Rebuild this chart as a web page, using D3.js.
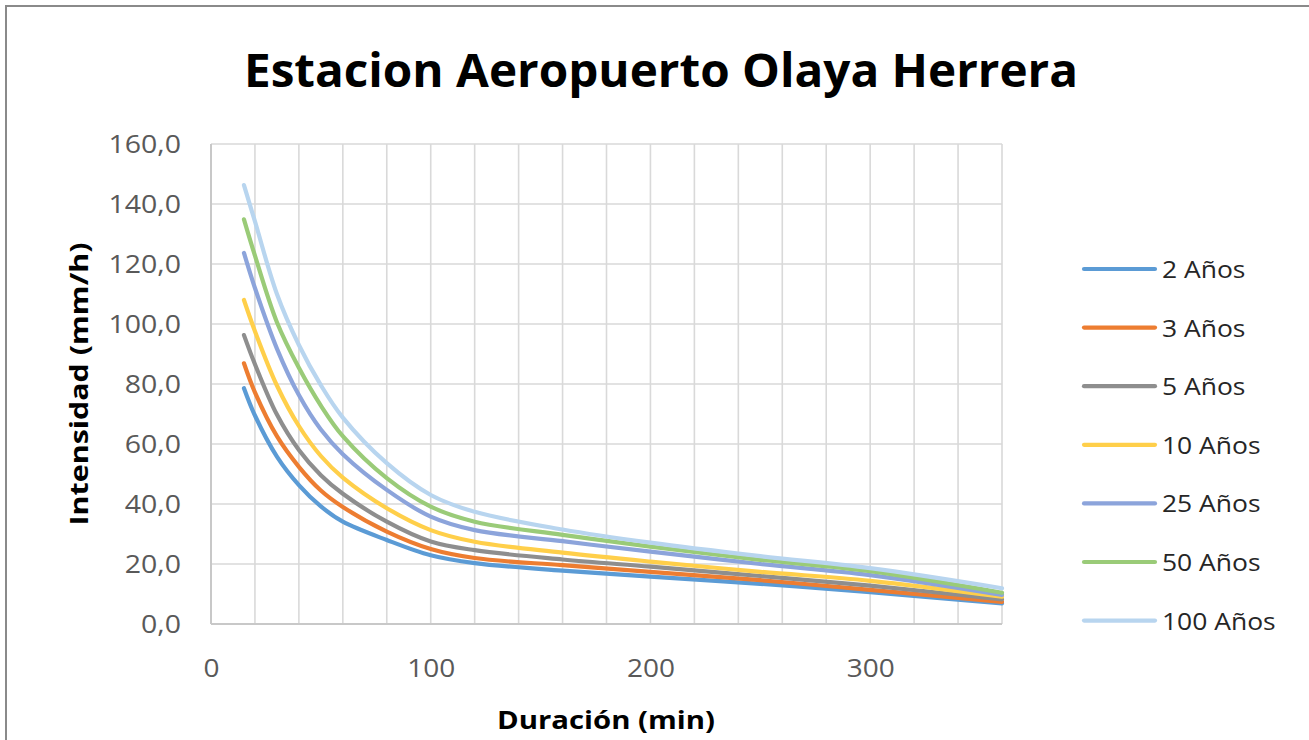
<!DOCTYPE html>
<html>
<head>
<meta charset="utf-8">
<script src="https://cdn.jsdelivr.net/npm/d3@7"></script>
<style>
  html, body { margin: 0; padding: 0; background: #fff; }
  svg { display: block; }
  text { font-family: "Open Sans", "Liberation Sans", sans-serif; }
</style>
</head>
<body>
<svg id="chart" width="1309" height="740"></svg>
<script>
// ---- Data ----
const title = "Estacion Aeropuerto Olaya Herrera";
const xTitle = "Duración (min)";
const yTitle = "Intensidad (mm/h)";
const durations = [15, 20, 30, 40, 50, 60, 80, 100, 120, 160, 200, 250, 300, 360];
const seriesNames = ["2 Años", "3 Años", "5 Años", "10 Años", "25 Años", "50 Años", "100 Años"];
const s2   = [78.6, 69.5, 55.8, 46.3, 39.2, 34.1, 28.0, 22.9, 20.3, 17.8, 15.8, 13.4, 10.6, 6.9];
const s3   = [86.9, 77.2, 62.6, 52.4, 44.5, 39.0, 30.8, 25.0, 22.0, 19.6, 17.4, 14.6, 11.4, 7.4];
const s5   = [96.3, 86.6, 69.8, 58.0, 49.6, 43.4, 34.1, 27.5, 24.6, 21.5, 19.1, 16.0, 12.8, 8.2];
const s10  = [108.0, 97.6, 79.5, 66.0, 56.0, 48.8, 38.6, 31.3, 27.4, 23.8, 20.8, 17.4, 14.4, 9.1];
const s25  = [123.7, 112.0, 91.8, 76.3, 64.8, 56.6, 44.7, 35.8, 31.3, 27.6, 24.1, 20.0, 16.3, 9.7];
const s50  = [134.9, 122.8, 100.6, 85.4, 72.8, 62.6, 48.6, 39.1, 34.1, 29.7, 25.8, 21.4, 17.6, 10.4];
const s100 = [146.3, 134.2, 110.0, 93.0, 79.6, 68.8, 53.6, 43.0, 37.4, 31.5, 27.1, 22.6, 18.6, 11.9];
const seriesValues = [s2, s3, s5, s10, s25, s50, s100];
const colors = ["#5B9BD5", "#ED7D31", "#8E8E8E", "#FFCF4A", "#8CA4DB", "#9ACB78", "#B8D5EF"];
const yTicks = [0, 20, 40, 60, 80, 100, 120, 140, 160];
const xTicks = [0, 100, 200, 300];
const xGrid = d3.range(0, 361, 20);

// ---- Layout ----
const svg = d3.select("#chart");
const m = { left: 211, right: 1002, top: 144, bottom: 624 };
const x = d3.scaleLinear().domain([0, 360]).range([m.left, m.right]);
const y = d3.scaleLinear().domain([0, 160]).range([m.bottom, m.top]);

// stretch text horizontally (reference rendering is wide)
function stretch(sel, k) {
  sel.each(function () {
    const w = this.getComputedTextLength();
    d3.select(this).attr("textLength", w * k).attr("lengthAdjust", "spacingAndGlyphs");
  });
}

// outer frame (partially visible)
svg.append("rect").attr("x", 6).attr("y", 6).attr("width", 1400).attr("height", 900)
  .attr("fill", "none").attr("stroke", "#8a8a8a").attr("stroke-width", 2);

// grid
const grid = svg.append("g");
grid.selectAll(".vg").data(xGrid).join("line")
  .attr("x1", d => x(d)).attr("x2", d => x(d))
  .attr("y1", m.top).attr("y2", m.bottom)
  .attr("stroke", "#d9d9d9").attr("stroke-width", 1.6);
grid.selectAll(".hg").data(yTicks).join("line")
  .attr("x1", m.left).attr("x2", m.right)
  .attr("y1", d => y(d)).attr("y2", d => y(d))
  .attr("stroke", "#d9d9d9").attr("stroke-width", 1.6);
// axis lines
svg.append("line").attr("x1", m.left).attr("x2", m.right).attr("y1", m.bottom).attr("y2", m.bottom)
  .attr("stroke", "#c8c8c8").attr("stroke-width", 2);
svg.append("line").attr("x1", m.left).attr("x2", m.left).attr("y1", m.top).attr("y2", m.bottom)
  .attr("stroke", "#c8c8c8").attr("stroke-width", 2);

// axes via d3 axis (labels only)
const fmt = d => d.toFixed(1).replace(".", ",");
const yAxis = svg.append("g").attr("transform", `translate(${m.left},0)`)
  .call(d3.axisLeft(y).tickValues(yTicks).tickFormat(fmt).tickSize(0).tickPadding(30));
yAxis.select(".domain").remove();
yAxis.selectAll("text").attr("font-size", 25).attr("fill", "#595959")
  .attr("font-family", "'Open Sans', sans-serif").call(stretch, 1.14);

const xAxis = svg.append("g").attr("transform", `translate(0,${m.bottom})`)
  .call(d3.axisBottom(x).tickValues(xTicks).tickFormat(d3.format("d")).tickSize(0).tickPadding(35));
xAxis.select(".domain").remove();
xAxis.selectAll("text").attr("font-size", 25).attr("fill", "#595959")
  .attr("font-family", "'Open Sans', sans-serif").call(stretch, 1.12);

// lines
const line = d3.line().x(d => x(d[0])).y(d => y(d[1])).curve(d3.curveCatmullRom.alpha(0.5));
seriesValues.forEach((vals, i) => {
  svg.append("path")
    .datum(durations.map((d, j) => [d, vals[j]]))
    .attr("d", line)
    .attr("fill", "none")
    .attr("stroke", colors[i])
    .attr("stroke-width", 4.2)
    .attr("stroke-linecap", "round")
    .attr("stroke-linejoin", "round");
});

// title
svg.append("text").attr("x", 661).attr("y", 87).attr("text-anchor", "middle")
  .attr("font-size", 46).attr("font-weight", "bold").attr("fill", "#000")
  .attr("textLength", 834).attr("lengthAdjust", "spacingAndGlyphs")
  .text(title);

// axis titles
svg.append("text").attr("x", 606).attr("y", 729).attr("text-anchor", "middle")
  .attr("font-size", 25).attr("font-weight", "bold").attr("fill", "#000")
  .attr("textLength", 218).attr("lengthAdjust", "spacingAndGlyphs")
  .text(xTitle);
svg.append("text").attr("transform", "translate(88,384) rotate(-90)").attr("text-anchor", "middle")
  .attr("font-size", 25).attr("font-weight", "bold").attr("fill", "#000")
  .attr("textLength", 283).attr("lengthAdjust", "spacingAndGlyphs")
  .text(yTitle);

// legend
const legend = svg.append("g");
seriesNames.forEach((name, i) => {
  const ly = 269 + i * 58.6;
  legend.append("line").attr("x1", 1084).attr("x2", 1155).attr("y1", ly).attr("y2", ly)
    .attr("stroke", colors[i]).attr("stroke-width", 4.2).attr("stroke-linecap", "round");
  legend.append("text").attr("x", 1162).attr("y", ly + 9).attr("font-size", 23)
    .attr("fill", "#262626").text(name).call(stretch, 1.15);
});
</script>
</body>
</html>
